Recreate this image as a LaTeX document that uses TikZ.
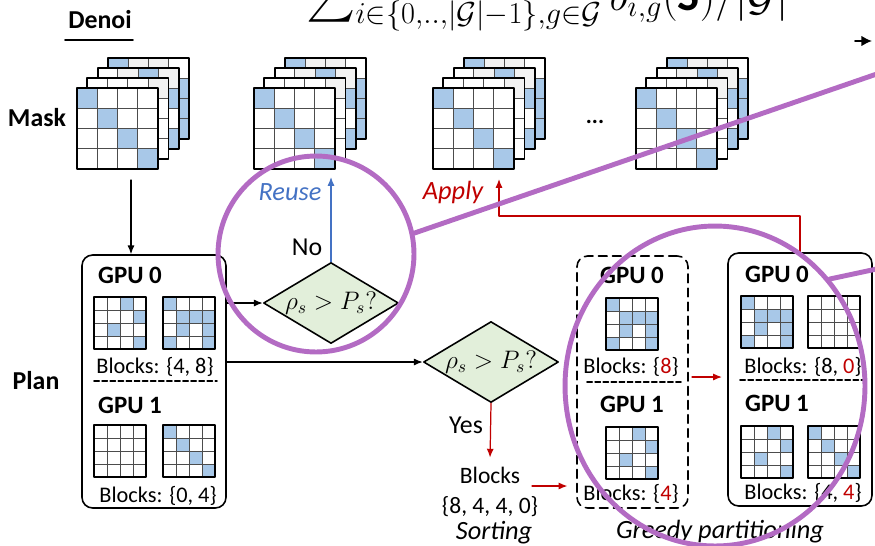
\documentclass[tikz,border=0pt]{standalone}
\usepackage{amsmath}
\usepackage{amssymb}
\usepackage{fontspec}
\setmainfont{Carlito}
\usepackage{xcolor}
\usetikzlibrary{arrows.meta,positioning,shapes.geometric}

\definecolor{cellblue}{HTML}{A8C8E8}
\definecolor{cellgray}{HTML}{F2F2F2}
\definecolor{diagreen}{HTML}{E2EFDA}
\definecolor{reuseblue}{HTML}{4472C4}
\definecolor{applyred}{HTML}{C00000}
\definecolor{ringpurple}{HTML}{B36BC3}

% cell patterns, row/col from the top left
\def\pdiag{0/0,1/1,2/2,3/3}
\def\pfour{0/2,1/3,2/1,3/3}
\def\peight{0/0,1/1,1/2,1/3,2/1,2/3,3/0,3/3}
\def\pbackc{0/0,1/3,2/3,3/3}
\def\gbackc{0/1,0/2}
\def\pbackb{0/2,1/3,3/3}
\def\gbackb{0/1,0/3}
\def\gbacka{0/3}

% #1,#2 top left, #3 cell size, #4 blue cells, #5 gray cells
\newcommand{\cellgrid}[5]{%
  \fill[white] (#1,#2) rectangle ++(4*#3,4*#3);
  \edef\graycells{#5}\edef\bluecells{#4}%
  \ifx\graycells\empty\else
    \foreach \r/\c in \graycells {\fill[cellgray] (#1+\c*#3,#2+\r*#3) rectangle ++(#3,#3);}
  \fi
  \ifx\bluecells\empty\else
    \foreach \r/\c in \bluecells {\fill[cellblue] (#1+\c*#3,#2+\r*#3) rectangle ++(#3,#3);}
  \fi
  \foreach \k in {1,2,3} {
    \draw[gridline] (#1+\k*#3,#2) -- ++(0,4*#3);
    \draw[gridline] (#1,#2+\k*#3) -- ++(4*#3,0);
  }
  \draw[gridframe] (#1,#2) rectangle ++(4*#3,4*#3);
}

\newcommand{\maskstack}[2]{%
  \cellgrid{#1+30.9}{#2-30}{20.3}{\pbackc}{\gbackc}
  \cellgrid{#1+20.6}{#2-20}{20.3}{\pbackb}{\gbackb}
  \cellgrid{#1+10.3}{#2-10}{20.3}{}{\gbacka}
  \cellgrid{#1}{#2}{20.3}{\pdiag}{}
}

\tikzset{
  gridline/.style={gray!60!black, line width=0.5pt},
  gridframe/.style={black, line width=1.1pt},
  gpubox/.style={draw, line width=0.9pt, rounded corners=6pt, inner sep=0pt},
  sepline/.style={line width=0.9pt, dash pattern=on 3pt off 1.6pt},
  decision/.style={diamond, draw, fill=diagreen, line width=0.9pt, inner sep=0pt,
    minimum width=2.7cm, minimum height=1.62cm},
  sidelbl/.style={font=\bfseries\fontsize{14.7}{16}\selectfont},
  gpulbl/.style={font=\bfseries\fontsize{14.2}{16}\selectfont},
  blklbl/.style={font=\fontsize{12.7}{14}\selectfont},
  lbl/.style={font=\fontsize{14.7}{16}\selectfont},
  itlbl/.style={font=\itshape\fontsize{15}{17}\selectfont},
  zoomring/.style={draw=ringpurple, line width=2.8pt},
}

\begin{document}
\begin{tikzpicture}[x=0.02cm, y=-0.02cm, >={Latex[length=5pt,width=4pt]}, line cap=round, line join=round]
  \clip (0,0) rectangle (875,545);
  \coordinate (m1) at (131,180);
  \coordinate (reuse) at (331,177);
  \coordinate (apply) at (499,179);
  \coordinate (ap) at (800,216);
  \coordinate (sa) at (532,486);
  \coordinate (ga) at (692,377);
  \coordinate (ta) at (855,41);
  \coordinate (tb) at (872,41);

  \node[anchor=base west, inner sep=0pt] (loss) at (306,10)
    {\fontsize{26.6}{28}\selectfont $\sum_{i\in\{0,..,|\mathcal{G}|-1\},g\in\mathcal{G}} b_{i,g}(\mathbf{S})/|\mathcal{G}|$};
  \draw[-{Latex[length=6pt,width=6pt]}, line width=1pt] (ta) -- (tb);

  % mask row
  \node[sidelbl] (denoi) at (100,20) {Denoi};
  \draw[line width=0.9pt] (65,40) -- (133,40);
  \node[sidelbl] (mask) at (37,118) {Mask};
  \maskstack{77}{88}
  \maskstack{254}{88}
  \maskstack{433}{88}
  \maskstack{636}{88}
  \node[font=\bfseries\fontsize{13}{14}\selectfont] (dots) at (595,122) {...};

  % plan row
  \node[sidelbl] (plan) at (36,381) {Plan};
  \node[gpubox, minimum width=2.88cm, minimum height=5.06cm] (lbox) at (154,381.5) {};
  \node[gpulbl] (l0) at (130,275) {GPU 0};
  \cellgrid{94}{297}{13}{\pfour}{}
  \cellgrid{163}{297}{13}{\peight}{}
  \node[blklbl] (lb0) at (155,367) {Blocks: \{4, 8\}};
  \draw[sepline] (94,381) -- (217,381);
  \node[gpulbl] (l1) at (130,405) {GPU 1};
  \cellgrid{94}{425}{13}{}{}
  \cellgrid{163}{425}{13}{\pdiag}{}
  \node[blklbl] (lb1) at (158,496) {Blocks: \{0, 4\}};

  \draw[->, line width=0.7pt] (m1) -- (lbox.north -| m1);

  \node[decision] (d1) at (331,303) {};
  \node[font=\fontsize{14}{16}\selectfont] (q1) at (d1) {$\rho_s > P_s?$};
  \node[decision] (d2) at (491,362) {};
  \node[font=\fontsize{14}{16}\selectfont] (q2) at (d2) {$\rho_s > P_s?$};
  \draw[->, line width=0.7pt] (lbox.east |- d1.west) -- (d1.west);
  \draw[->, line width=0.7pt] (lbox.east |- d2.west) -- (d2.west);

  \draw[->, reuseblue, line width=0.7pt] (d1.north) -- (reuse);
  \node[lbl] (no) at (307,247) {No};
  \node[itlbl, text=reuseblue] (reuselbl) at (290,192) {Reuse};

  \node[blklbl, font=\fontsize{13.4}{17}\selectfont, align=center] (sortblk) at (490,492) {Blocks\\\{8, 4, 4, 0\}};
  \node[itlbl] (sorting) at (494,533) {Sorting};
  \draw[->, applyred, line width=0.7pt, shorten >=2pt] (d2.south) -- (sortblk.north);
  \node[lbl] (yes) at (466,425) {Yes};

  % greedy partitioning
  \node[gpubox, dashed, dash pattern=on 5pt off 3pt, minimum width=2.22cm, minimum height=5.04cm] (gbox) at (632.5,382) {};
  \node[gpulbl] (g0) at (632,275) {GPU 0};
  \cellgrid{606}{298}{13}{\peight}{}
  \node[blklbl] (gb0) at (631,367) {Blocks: \{\textcolor{applyred}{8}\}};
  \draw[sepline] (587,382) -- (681,382);
  \node[gpulbl] (g1) at (632,404) {GPU 1};
  \cellgrid{606}{427}{13}{\pfour}{}
  \node[blklbl] (gb1) at (631,494) {Blocks: \{\textcolor{applyred}{4}\}};
  \draw[->, applyred, line width=0.7pt, shorten >=5pt] (sa) -- (gbox.west |- sa);

  \node[gpubox, minimum width=2.88cm, minimum height=5.06cm] (rbox) at (800,379.5) {};
  \node[gpulbl] (r0) at (777,274) {GPU 0};
  \cellgrid{741}{296}{13}{\peight}{}
  \cellgrid{808}{296}{13}{}{}
  \node[blklbl] (rb0) at (803,367) {Blocks: \{8, \textcolor{applyred}{0}\}};
  \draw[sepline] (740,380) -- (865,380);
  \node[gpulbl] (r1) at (777,403) {GPU 1};
  \cellgrid{741}{426}{13}{\pfour}{}
  \cellgrid{808}{426}{13}{\pdiag}{}
  \node[blklbl] (rb1) at (803,493) {Blocks: \{4, \textcolor{applyred}{4}\}};
  \node[itlbl] (greedy) at (720,532) {Greedy partitioning};
  \draw[->, applyred, line width=0.7pt, shorten >=3pt] (ga) -- (rbox.west |- ga);

  \draw[->, applyred, line width=0.7pt] (rbox.north -| ap) -- (ap) -| (apply);
  \node[itlbl, text=applyred] (applylbl) at (453,192) {Apply};

  % zoom rings
  \node[circle, zoomring, minimum size=3.92cm] (ring1) at (316,254) {};
  \draw[zoomring] (ring1.12) -- (900,66);
  \node[ellipse, zoomring, minimum width=6cm, minimum height=6.4cm] (ring2) at (715,386) {};
  \draw[zoomring] (ring2.43) -- (900,264);
\end{tikzpicture}
\end{document}
